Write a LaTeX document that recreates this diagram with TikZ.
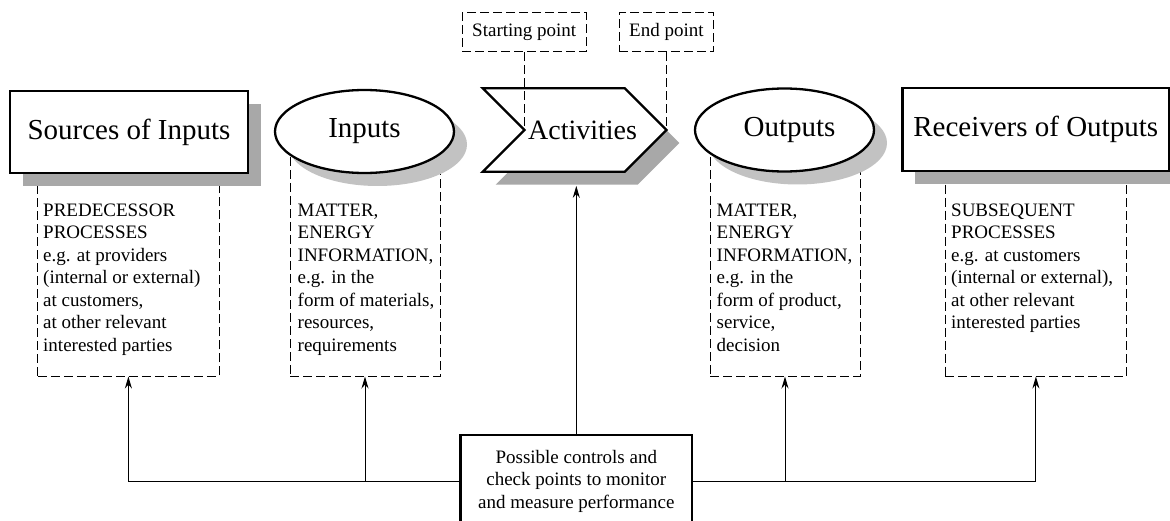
\documentclass[tikz,border=0pt]{standalone}
\usepackage{fontspec}
\setmainfont{Liberation Serif}
\usetikzlibrary{shapes.geometric,shadows,arrows.meta}
\definecolor{shadebox}{HTML}{A8A8A8}
\definecolor{shadeoval}{HTML}{C2C2C2}
\begin{document}
\begin{tikzpicture}[x=1pt,y=-1pt,
  bigshape/.style={draw=black,line width=2.3pt,fill=white,inner sep=0pt,font=\fontsize{29}{34}\selectfont},
  boxshade/.style={drop shadow={shadow xshift=13pt,shadow yshift=-13pt,fill=shadebox,opacity=1}},
  ovalshade/.style={drop shadow={shadow xshift=13pt,shadow yshift=-13pt,fill=shadeoval,opacity=1}},
  dashline/.style={draw=black,dash pattern=on 9pt off 4pt,line width=1pt},
  infotext/.style={anchor=north west,inner sep=0pt,align=left,font=\fontsize{19}{22.5}\selectfont},
  markbox/.style={dashline,inner xsep=10pt,inner ysep=0pt,minimum height=39pt,font=\fontsize{19}{22.5}\selectfont},
  ctrlarrow/.style={-{Stealth[length=12pt,width=7pt]},line width=1pt}]
\clip (0,0) rectangle (1170,521);
\pgfmathsetmacro{\infotop}{150}
\pgfmathsetmacro{\infobot}{376}
% dashed boxes below the shapes
\node[dashline,minimum width=181.3pt,minimum height=\infobot-\infotop] (srcinfo) at (128.4,{(\infotop+\infobot)/2}) {};
\node[dashline,minimum width=150pt,minimum height=\infobot-\infotop] (inpinfo) at (365,{(\infotop+\infobot)/2}) {};
\node[dashline,minimum width=150pt,minimum height=\infobot-\infotop] (outinfo) at (785,{(\infotop+\infobot)/2}) {};
\node[dashline,minimum width=181.7pt,minimum height=\infobot-\infotop] (rcvinfo) at (1035.9,{(\infotop+\infobot)/2}) {};
\node[infotext] (srctext) at (43,203.5) {PREDECESSOR\\PROCESSES\\e.g. at providers\\(internal or external)\\at customers,\\at other relevant\\interested parties};
\node[infotext] (inptext) at (297.5,203.5) {MATTER,\\ENERGY\\INFORMATION,\\e.g. in the\\form of materials,\\resources,\\requirements};
\node[infotext] (outtext) at (716.5,203.5) {MATTER,\\ENERGY\\INFORMATION,\\e.g. in the\\form of product,\\service,\\decision};
\node[infotext] (rcvtext) at (951,203.5) {SUBSEQUENT\\PROCESSES\\e.g. at customers\\(internal or external),\\at other relevant\\interested parties};
% starting and end point
\node[markbox] (startpt) at (524.2,32.2) {Starting point};
\node[markbox] (endpt) at (666.4,32.2) {End point};
% main chain
\node[bigshape,boxshade,rectangle,minimum width=238pt,minimum height=82pt] (src) at (129,132) {Sources of Inputs};
\node[bigshape,ovalshade,ellipse,minimum width=179pt,minimum height=83pt] (inp) at (364.5,131.5) {Inputs};
% activities chevron
\pgfmathsetmacro{\al}{482.7}
\pgfmathsetmacro{\ar}{666.4}
\pgfmathsetmacro{\at}{88.3}
\pgfmathsetmacro{\ab}{171.7}
\pgfmathsetmacro{\ad}{(\ab-\at)/2}
\fill[shadebox,shift={(13,13)}] (\al,\at)--(\ar-\ad,\at)--(\ar,\at+\ad)--(\ar-\ad,\ab)--(\al,\ab)--(\al+\ad,\at+\ad)--cycle;
\draw[line width=2.3pt,fill=white] (\al,\at)--(\ar-\ad,\at)--(\ar,\at+\ad)--(\ar-\ad,\ab)--(\al,\ab)--(\al+\ad,\at+\ad)--cycle;
\node[inner sep=0pt,minimum width=\ar-\al,minimum height=\ab-\at,font=\fontsize{28}{34}\selectfont] (act) at ({(\al+\ar)/2},{\at+\ad}) {\hspace*{16pt}Activities};
\node[bigshape,ovalshade,ellipse,minimum width=179pt,minimum height=83pt] (out) at (784.5,130) {\hspace*{10pt}Outputs};
\node[bigshape,boxshade,rectangle,minimum width=266.7pt,minimum height=82.7pt] (rcv) at (1035.7,129.7) {Receivers of Outputs};
\draw[dashline] (startpt.south) -- (startpt.south |- act.center);
\draw[dashline] (endpt.south) -- (endpt.south |- act.east);
% controls
\node[draw=black,line width=2.3pt,fill=white,align=center,font=\fontsize{19}{22.5}\selectfont,minimum width=231.6pt,minimum height=92pt] (ctrl) at (576.3,481) {Possible controls and\\check points to monitor\\and measure performance};
\draw[ctrlarrow] (ctrl.west) -| (srcinfo.south);
\draw[ctrlarrow] (inpinfo.south |- ctrl.west) -- (inpinfo.south);
\draw[ctrlarrow] (ctrl.east) -| (rcvinfo.south);
\draw[ctrlarrow] (outinfo.south |- ctrl.east) -- (outinfo.south);
\draw[ctrlarrow,shorten >=14pt] (ctrl.north) -- (ctrl.north |- act.south);
\end{tikzpicture}
\end{document}
